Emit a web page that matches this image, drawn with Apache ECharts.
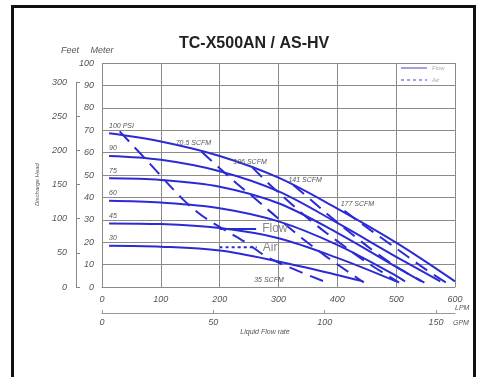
<!DOCTYPE html>
<html>
<head>
<meta charset="utf-8">
<script src="https://cdn.jsdelivr.net/npm/echarts@6/dist/echarts.min.js"></script>
<style>
html,body{margin:0;padding:0;background:#fff;}
#frame{position:absolute;left:11px;top:5px;width:459px;height:400px;border:3px solid #111;}
#main{position:absolute;left:0;top:0;width:483px;height:377px;}
</style>
</head>
<body>
<div id="frame"></div>
<div id="main"></div>
<script>
// pump curves, x = liquid flow (LPM), y = head (meter)
var psiNames = ['100 PSI', '90', '75', '60', '45', '30'];
var flow100 = [[12,68.6],[100,65],[200,58.5],[300,48.8],[400,35],[500,19.8],[600,2.5]];
var flow90 = [[12,58.5],[100,56.8],[200,51.7],[300,42.7],[400,28.6],[500,13.5],[575,2.5]];
var flow75 = [[12,48.5],[100,47.8],[200,44.8],[300,37.4],[400,24.2],[500,9],[543,2.5]];
var flow60 = [[12,38.5],[100,37.7],[200,35.2],[300,29.3],[400,18.8],[500,5],[515,2.5]];
var flow45 = [[12,28.4],[100,28.1],[200,26.3],[300,21.8],[400,13],[500,2.5]];
var flow30 = [[12,18.4],[100,18],[200,16.3],[300,11.4],[400,5.4],[444,2.5]];

// air consumption lines
var scfmNames = ['35 SCFM', '70.5 SCFM', '106 SCFM', '141 SCFM', '177 SCFM'];
var air35 = [[30,69.5],[78,56],[138,39],[172,31.5],[209,25.4],[246,19.6],[280,13.5],[323,8.3],[382,2]];
var air70 = [[169,60.5],[200,53],[230,46],[260,39.5],[300,30.5],[340,21.8],[380,13.8],[445,2]];
var air106 = [[255,53.5],[280,47],[320,37.5],[360,28.5],[400,20.5],[450,11],[505,2]];
var air141 = [[325,45.5],[350,40],[390,31],[430,22.5],[470,14.5],[510,7.5],[548,2]];
var air177 = [[412,34],[440,28.5],[480,21],[520,13.5],[555,7],[585,2]];

// key drawn inside the plot
var flowKey = [[200,25.9],[262,25.9]];
var airKey = [[200,17.7],[263,17.7]];

var gpmTicks = [0, 50, 100, 150];

var BLUE = '#2b2bd6';
var GRID = '#8a8a8a';
var FONT = 'Liberation Sans';
var txt = {color: '#555', fontStyle: 'italic', fontFamily: FONT};

function ext(a, b) {
	var o = {};
	for (var k in a) o[k] = a[k];
	for (var k in b) o[k] = b[k];
	return o;
}

function makeLine(name, pts, dash, lab) {
	var data = pts.map(function(p) { return {value: p}; });
	if (lab) {
		var idx = lab.atEnd ? data.length - 1 : 0;
		data[idx].label = ext({show: true, formatter: lab.text}, lab.style);
	}
	return {
		type: 'line', name: name, data: data, smooth: 0.35,
		symbol: 'circle', symbolSize: 0, showSymbol: true,
		lineStyle: {color: BLUE, width: 2, type: dash},
		itemStyle: {color: BLUE},
		label: ext(txt, {show: false, fontSize: 7}),
		emphasis: {disabled: true}
	};
}

var psiStyle = {position: 'top', align: 'left', distance: 4};
var keyStyle = {position: 'right', distance: 6, fontSize: 12, fontStyle: 'normal', color: '#888'};
var flows = [flow100, flow90, flow75, flow60, flow45, flow30];
var airs = [air35, air70, air106, air141, air177];
var airLabStyle = [
	{atEnd: true, style: {position: 'left', distance: 43, offset: [0, -2]}},
	{style: {position: 'top', distance: 5, offset: [-8, 0]}},
	{style: {position: 'top', distance: 2, offset: [-2, 0]}},
	{style: {position: 'top', distance: 2, offset: [12, 0]}},
	{style: {position: 'top', distance: 3, offset: [13, 0]}}
];

var series = [];
series.push(makeLine('Flow', flowKey, 'solid', {atEnd: true, text: 'Flow', style: keyStyle}));
series.push(makeLine('Air', airKey, [3, 3], {atEnd: true, text: 'Air', style: keyStyle}));
for (var i = 0; i < flows.length; i++) {
	series.push(makeLine('Flow', flows[i], 'solid', {text: psiNames[i], style: psiStyle}));
}
for (var j = 0; j < airs.length; j++) {
	series.push(makeLine('Air', airs[j], [14, 8], ext({text: scfmNames[j]}, airLabStyle[j])));
}

var option = {
	animation: false,
	title: [{
		text: 'TC-X500AN / AS-HV', left: 179, top: 36, padding: 0,
		textStyle: {fontSize: 16, fontWeight: 'bold', color: '#222', fontFamily: FONT}
	}, {
		text: 'Feet', left: 61, top: 46, padding: 0,
		textStyle: ext(txt, {fontSize: 9, fontWeight: 'normal'})
	}],
	legend: {
		data: [{name: 'Flow'}, {name: 'Air'}],
		orient: 'vertical', left: 400, top: 65, padding: 0,
		itemWidth: 26, itemHeight: 6, itemGap: 6, selectedMode: false,
		itemStyle: {opacity: 0},
		lineStyle: {opacity: 0.45},
		textStyle: ext(txt, {fontSize: 6, color: '#aaa'})
	},
	grid: [
		{left: 102, right: 28, top: 63, bottom: 90},
		{left: 102, right: 28, top: 82.2, bottom: 90}
	],
	xAxis: [{
		gridIndex: 0, type: 'value', min: 0, max: 600, interval: 100,
		axisLine: {onZero: false, lineStyle: {color: GRID}},
		axisTick: {show: false},
		splitLine: {show: true, lineStyle: {color: GRID, width: 1}},
		axisLabel: ext(txt, {fontSize: 9, margin: 8}),
		name: 'LPM', nameLocation: 'end', nameGap: 0,
		nameTextStyle: ext(txt, {fontSize: 7, verticalAlign: 'top', padding: [18, 0, 0, 0]})
	}, {
		gridIndex: 0, type: 'value', position: 'bottom', offset: 26, min: 0, max: 600 / 3.785,
		axisLine: {show: true, onZero: false, lineStyle: {color: '#999'}},
		axisTick: {show: true, inside: true, length: 3, customValues: gpmTicks, lineStyle: {color: '#999'}},
		axisLabel: ext(txt, {fontSize: 9, margin: 5, customValues: gpmTicks}),
		splitLine: {show: false},
		name: 'GPM', nameLocation: 'end', nameGap: -2,
		nameTextStyle: ext(txt, {fontSize: 7, verticalAlign: 'top', padding: [7, 0, 0, 0]})
	}, {
		gridIndex: 0, type: 'value', position: 'bottom', offset: 26, min: 0, max: 600,
		axisLine: {show: false, onZero: false}, axisTick: {show: false}, axisLabel: {show: false}, splitLine: {show: false},
		name: 'Liquid Flow rate', nameLocation: 'middle', nameGap: 16,
		nameTextStyle: ext(txt, {fontSize: 7, padding: [0, 27, 0, 0]})
	}, {
		gridIndex: 1, type: 'value', min: 0, max: 600, show: false
	}],
	yAxis: [{
		gridIndex: 0, type: 'value', min: 0, max: 100, interval: 10,
		axisLine: {show: false, onZero: false}, axisTick: {show: false},
		splitLine: {show: true, lineStyle: {color: GRID, width: 1}},
		axisLabel: ext(txt, {fontSize: 9, margin: 8}),
		name: 'Meter', nameLocation: 'end', nameGap: 8,
		nameTextStyle: ext(txt, {fontSize: 9})
	}, {
		gridIndex: 1, type: 'value', min: 0, max: 300, interval: 50, position: 'left', offset: 26,
		axisLine: {show: true, onZero: false, lineStyle: {color: '#888'}},
		axisTick: {show: true, inside: true, length: 4, lineStyle: {color: '#888'}},
		axisLabel: ext(txt, {fontSize: 9, margin: 9}),
		splitLine: {show: false}
	}, {
		gridIndex: 1, type: 'value', min: 0, max: 300, position: 'left', offset: 26,
		axisLine: {show: false, onZero: false}, axisTick: {show: false}, axisLabel: {show: false}, splitLine: {show: false},
		name: 'Discharge Head', nameLocation: 'middle', nameGap: 36, nameRotate: 90,
		nameTextStyle: ext(txt, {fontSize: 6})
	}],
	series: series
};

var myChart = echarts.init(document.getElementById('main'));
myChart.setOption(option);
</script>
</body>
</html>
